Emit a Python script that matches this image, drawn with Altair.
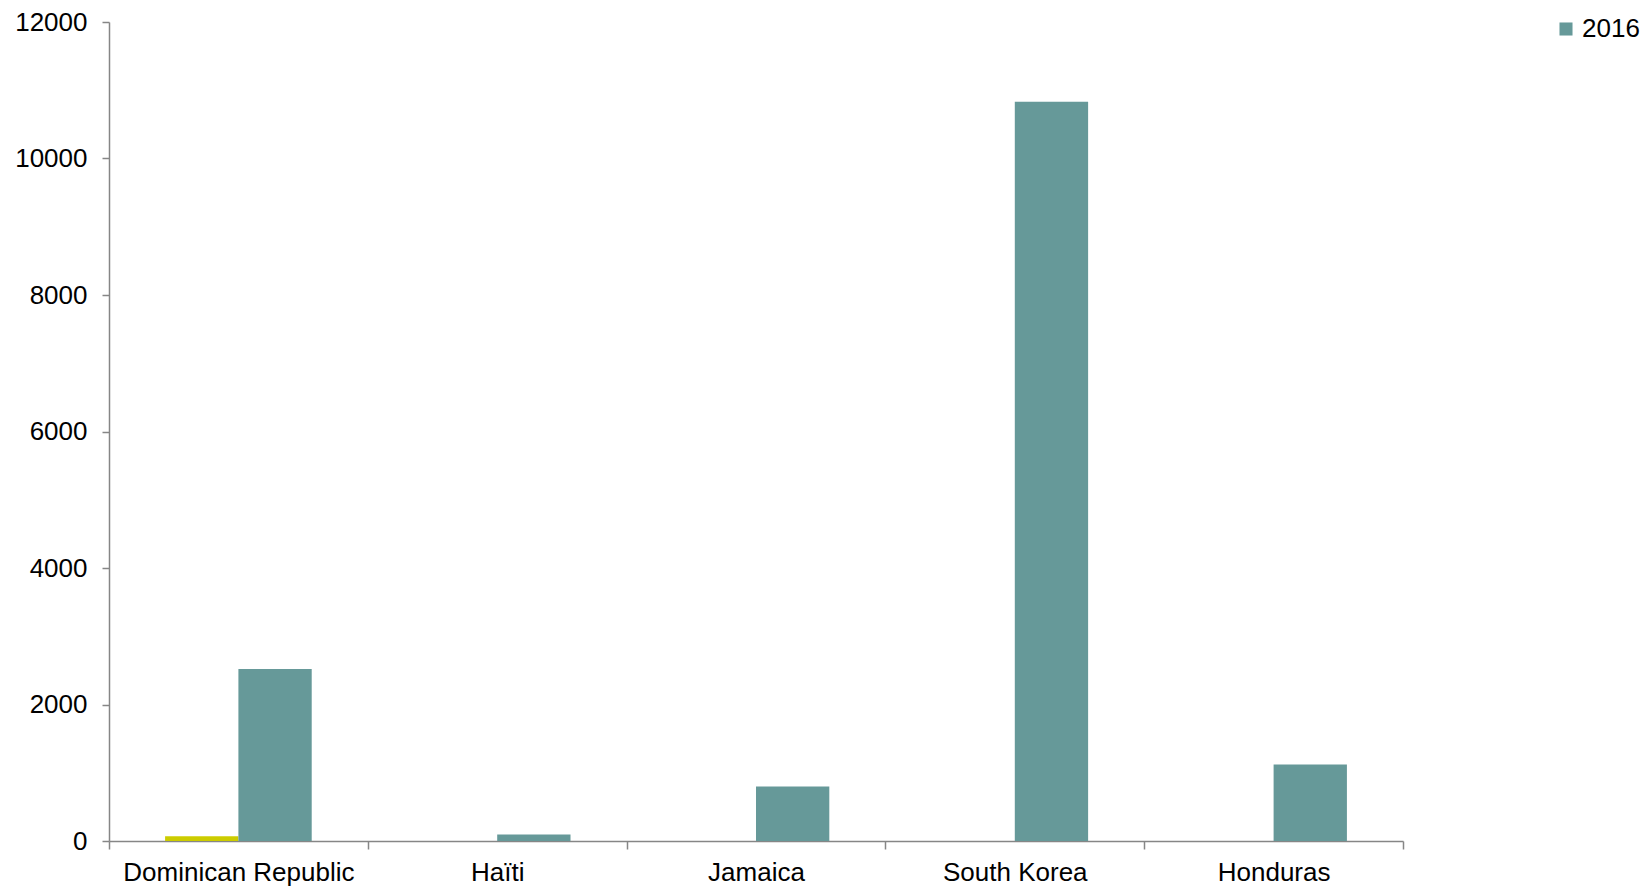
import altair as alt
import pandas as pd

# Values per country for the two series
countries = ["Dominican Republic", "Haïti", "Jamaica", "South Korea", "Honduras"]
series_a = [70, 0, 0, 0, 0]          # earlier series (yellow)
series_2016 = [2520, 95, 800, 10830, 1120]
series_names = ["2015", "2016"]
colors = ["#CCCC00", "#669999"]

rows = []
for c, a, b in zip(countries, series_a, series_2016):
    rows.append({"country": c, "series": series_names[0], "value": a})
    rows.append({"country": c, "series": series_names[1], "value": b})
df = pd.DataFrame(rows)

W, H = 1294, 819
FONT = "Liberation Sans"
FS = 26
AXIS_COLOR = "#868686"

bars = alt.Chart(df).mark_bar().encode(
    x=alt.X(
        "country:N",
        sort=countries,
        scale=alt.Scale(paddingInner=0, paddingOuter=0),
        axis=alt.Axis(
            title=None,
            labelAngle=0,
            labelFontSize=FS,
            labelFont=FONT,
            labelColor="#000000",
            labelLimit=0,
            labelPadding=10,
            tickBand="extent",
            tickSize=8,
            tickColor=AXIS_COLOR,
            domainColor=AXIS_COLOR,
            domainWidth=1.5,
            tickWidth=1.5,
        ),
    ),
    xOffset=alt.XOffset(
        "series:N",
        sort=series_names,
        scale=alt.Scale(paddingInner=0, paddingOuter=0.765),
    ),
    y=alt.Y(
        "value:Q",
        scale=alt.Scale(domain=[0, 12000], nice=False),
        axis=alt.Axis(
            title=None,
            values=list(range(0, 12001, 2000)),
            format="d",
            grid=False,
            labelFontSize=FS,
            labelFont=FONT,
            labelColor="#000000",
            labelPadding=15,
            tickSize=7,
            tickColor=AXIS_COLOR,
            domainColor=AXIS_COLOR,
            domainWidth=1.5,
            tickWidth=1.5,
        ),
    ),
    color=alt.Color(
        "series:N",
        scale=alt.Scale(domain=series_names, range=colors),
        legend=alt.Legend(
            title=None,
            values=["2016"],
            orient="none",
            legendX=1444,
            legendY=-6,
            symbolType="square",
            symbolSize=170,
            symbolStrokeWidth=0,
            labelFontSize=FS,
            labelFont=FONT,
            labelColor="#000000",
            labelOffset=3,
        ),
    ),
)

chart = (
    bars.properties(width=W, height=H)
    .configure(
        autosize=alt.AutoSizeParams(type="none"),
        padding={"left": 109, "top": 22, "right": 237, "bottom": 46},
        background="white",
    )
    .configure_view(stroke=None)
)

chart.save("out.html", embed_options={"renderer": "svg", "actions": False})
